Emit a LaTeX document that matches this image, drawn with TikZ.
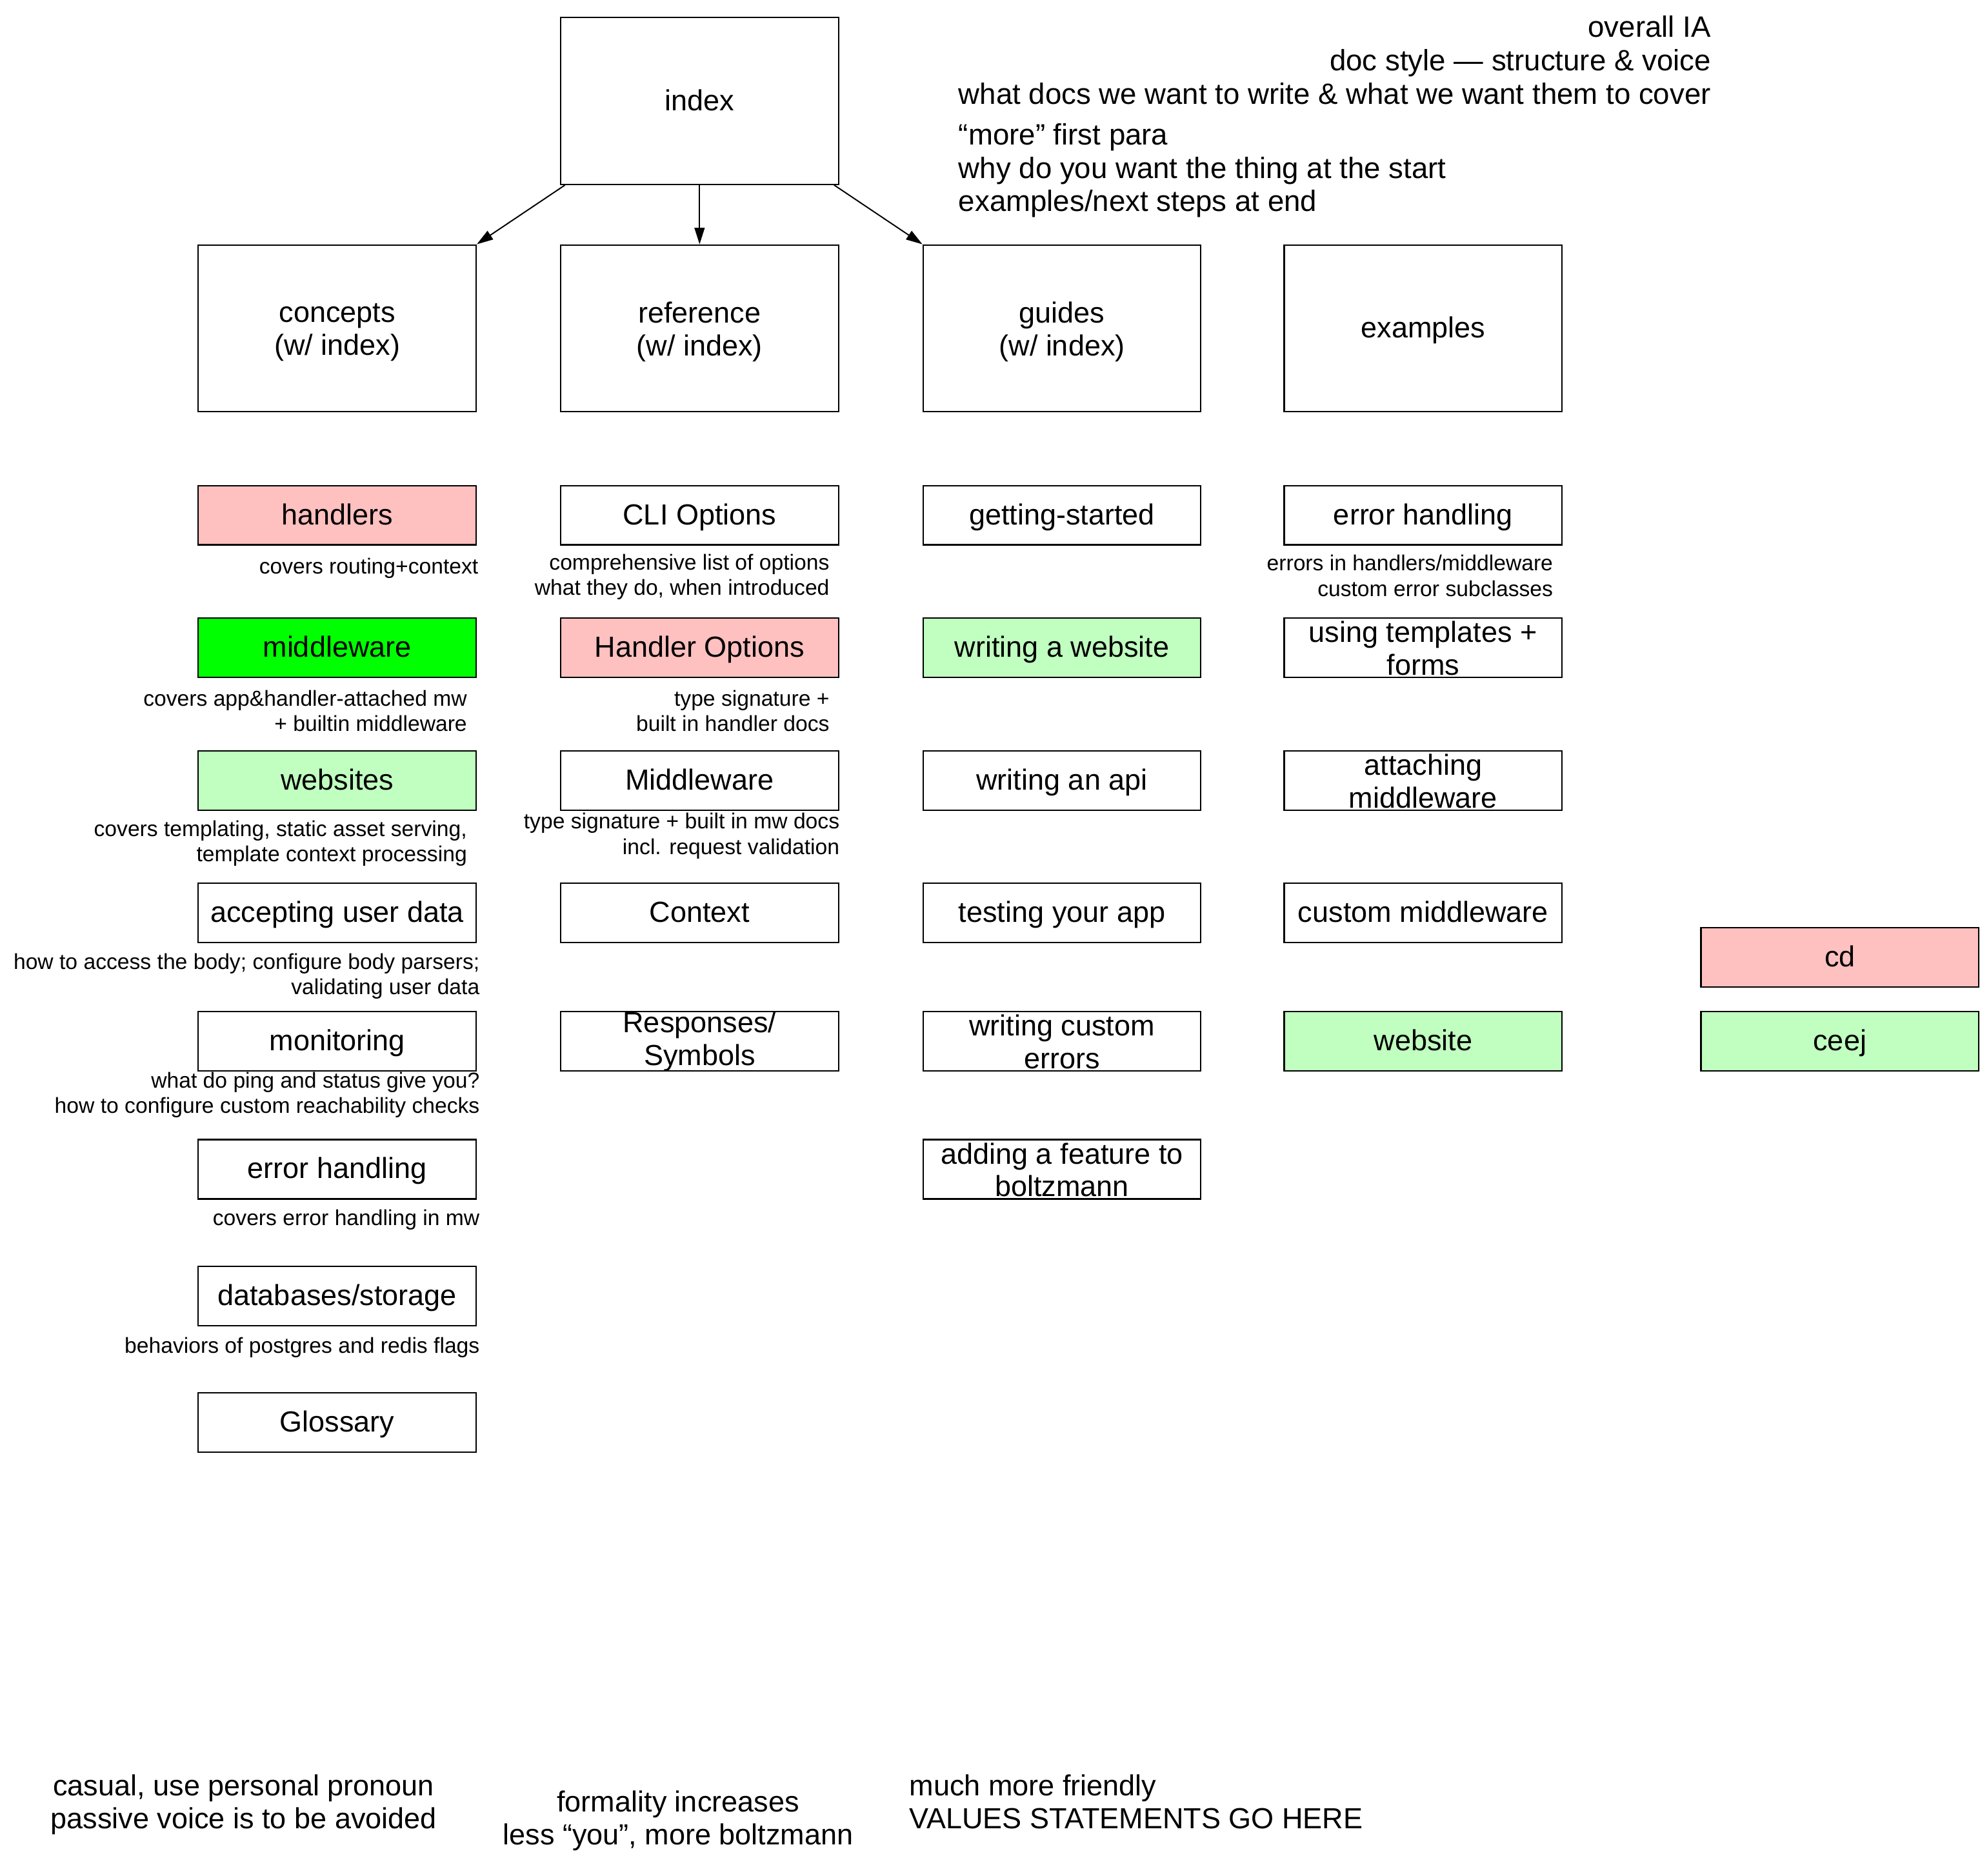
\documentclass[tikz,border=0pt]{standalone}
\usepackage{fontspec}
\setmainfont{Liberation Sans}
\usetikzlibrary{arrows.meta,calc}
\definecolor{pinkc}{RGB}{255,192,192}
\definecolor{lgreen}{RGB}{192,255,192}
\definecolor{bgreen}{RGB}{0,255,0}
\newcommand\mainfs{\fontsize{23}{26}\selectfont}
\newcommand\notefs{\fontsize{23.3}{26.5}\selectfont}
\newcommand\smallfs{\fontsize{17.2}{20}\selectfont}
\begin{document}
\begin{tikzpicture}[x=1pt,y=-1pt,
  base/.style={draw,line width=1.1pt,minimum width=220pt,inner sep=0pt,font=\mainfs},
  box/.style={base,minimum height=47pt,text height=17.4pt,text depth=2.6pt},
  bigbox/.style={base,minimum height=132pt,text height=17.4pt,text depth=2.6pt},
  twobig/.style={base,minimum height=132pt},
  twobox/.style={base,minimum height=47pt},
  lbl/.style={font=\mainfs,align=center,inner sep=0pt,yshift=-0.5pt},
  lblbig/.style={font=\mainfs,align=center,inner sep=0pt,yshift=-3pt},
  pink/.style={fill=pinkc},
  lg/.style={fill=lgreen},
  bg/.style={fill=bgreen},
  note/.style={font=\smallfs,align=right,inner sep=0pt,anchor=east},
  arr/.style={line width=1pt,-{Triangle[length=13pt,width=8pt]}}]
\useasboundingbox (0,0) rectangle (1568,1485.7);

% top level
\node[bigbox] (index) at (554,80) {index};
\node[twobig,label={[lblbig,name=tconcepts]center:concepts\\(w/ index)}] (concepts) at (267,260) {};
\node[twobig,label={[lblbig,name=treference]center:reference\\(w/ index)}] (reference) at (554,260) {};
\node[twobig,label={[lblbig,name=tguides]center:guides\\(w/ index)}] (guides) at (841,260) {};
\node[bigbox] (examples) at (1127,260) {examples};

\draw[arr] ($(index.south west)+(4,0)$) -- (concepts.north east);
\draw[arr] (index.south) -- (reference.north);
\draw[arr] ($(index.south east)+(-4,0)$) -- (guides.north west);

% notes top right
\node[font=\notefs,align=right,inner sep=0pt,anchor=east] (ia) at (1355,47.5)
  {overall IA\\doc style — structure \& voice\\what docs we want to write \& what we want them to cover};
\node[font=\notefs,align=left,inner sep=0pt,anchor=west] (para) at (759,135)
  {“more” first para\\why do you want the thing at the start\\examples/next steps at end};

% concepts column
\node[box,pink] (handlers) at (267,408) {handlers};
\node[note] (nhandlers) at (379,450) {covers routing+context};
\node[box,bg] (middleware) at (267,513) {middleware};
\node[note] (nmiddleware) at (370,563) {covers app\&handler-attached mw\\+ builtin middleware};
\node[box,lg] (websites) at (267,618) {websites};
\node[note] (nwebsites) at (370,668) {covers templating, static asset serving,\\template context processing};
\node[box] (accepting) at (267,723) {accepting user data};
\node[note] (naccepting) at (380,773) {how to access the body; configure body parsers;\\validating user data};
\node[box] (monitoring) at (267,824.5) {monitoring};
\node[note] (nmonitoring) at (380,867) {what do ping and status give you?\\how to configure custom reachability checks};
\node[box] (cerror) at (267,926) {error handling};
\node[note] (ncerror) at (380,966) {covers error handling in mw};
\node[box] (databases) at (267,1026.5) {databases/storage};
\node[note] (ndatabases) at (380,1067) {behaviors of postgres and redis flags};
\node[box] (glossary) at (267,1126.5) {Glossary};

% reference column
\node[box] (cli) at (554,408) {CLI Options};
\node[note] (ncli) at (657,457) {comprehensive list of options\\what they do, when introduced};
\node[box,pink] (hopts) at (554,513) {Handler Options};
\node[note] (nhopts) at (657,563) {type signature +\\built in handler docs};
\node[box] (rmiddleware) at (554,618) {Middleware};
\node[note] (nrmiddleware) at (665,662) {type signature + built in mw docs\\incl. request validation};
\node[box] (context) at (554,723) {Context};
\node[twobox,label={[lbl,name=tresponses]center:Responses/\\Symbols}] (responses) at (554,824.5) {};

% guides column
\node[box] (started) at (841,408) {getting-started};
\node[box,lg] (wwebsite) at (841,513) {writing a website};
\node[box] (wapi) at (841,618) {writing an api};
\node[box] (testing) at (841,723) {testing your app};
\node[twobox,label={[lbl,name=twerrors]center:writing custom\\errors}] (werrors) at (841,824.5) {};
\node[twobox,label={[lbl,name=tfeature]center:adding a feature to\\boltzmann}] (feature) at (841,926) {};

% examples column
\node[box] (eerror) at (1127,408) {error handling};
\node[note] (neerror) at (1230,456) {errors in handlers/middleware\\custom error subclasses};
\node[twobox,label={[lbl,name=ttemplates]center:using templates +\\forms}] (templates) at (1127,513) {};
\node[twobox,label={[lbl,name=tattach]center:attaching\\middleware}] (attaching) at (1127,618) {};
\node[box] (custommw) at (1127,723) {custom middleware};
\node[box,lg] (ewebsite) at (1127,824.5) {website};

% people
\node[box,pink] (cd) at (1457,758) {cd};
\node[box,lg] (ceej) at (1457,824.5) {ceej};

% bottom notes
\node[font=\mainfs,align=center,inner sep=0pt] (casual) at (193,1429)
  {casual, use personal pronoun\\passive voice is to be avoided};
\node[font=\mainfs,align=center,inner sep=0pt] (formality) at (537,1442)
  {formality increases\\less “you”, more boltzmann};
\node[font=\mainfs,align=left,inner sep=0pt,anchor=west] (friendly) at (720,1427)
  {much more friendly\\VALUES STATEMENTS GO HERE};
\end{tikzpicture}
\end{document}
